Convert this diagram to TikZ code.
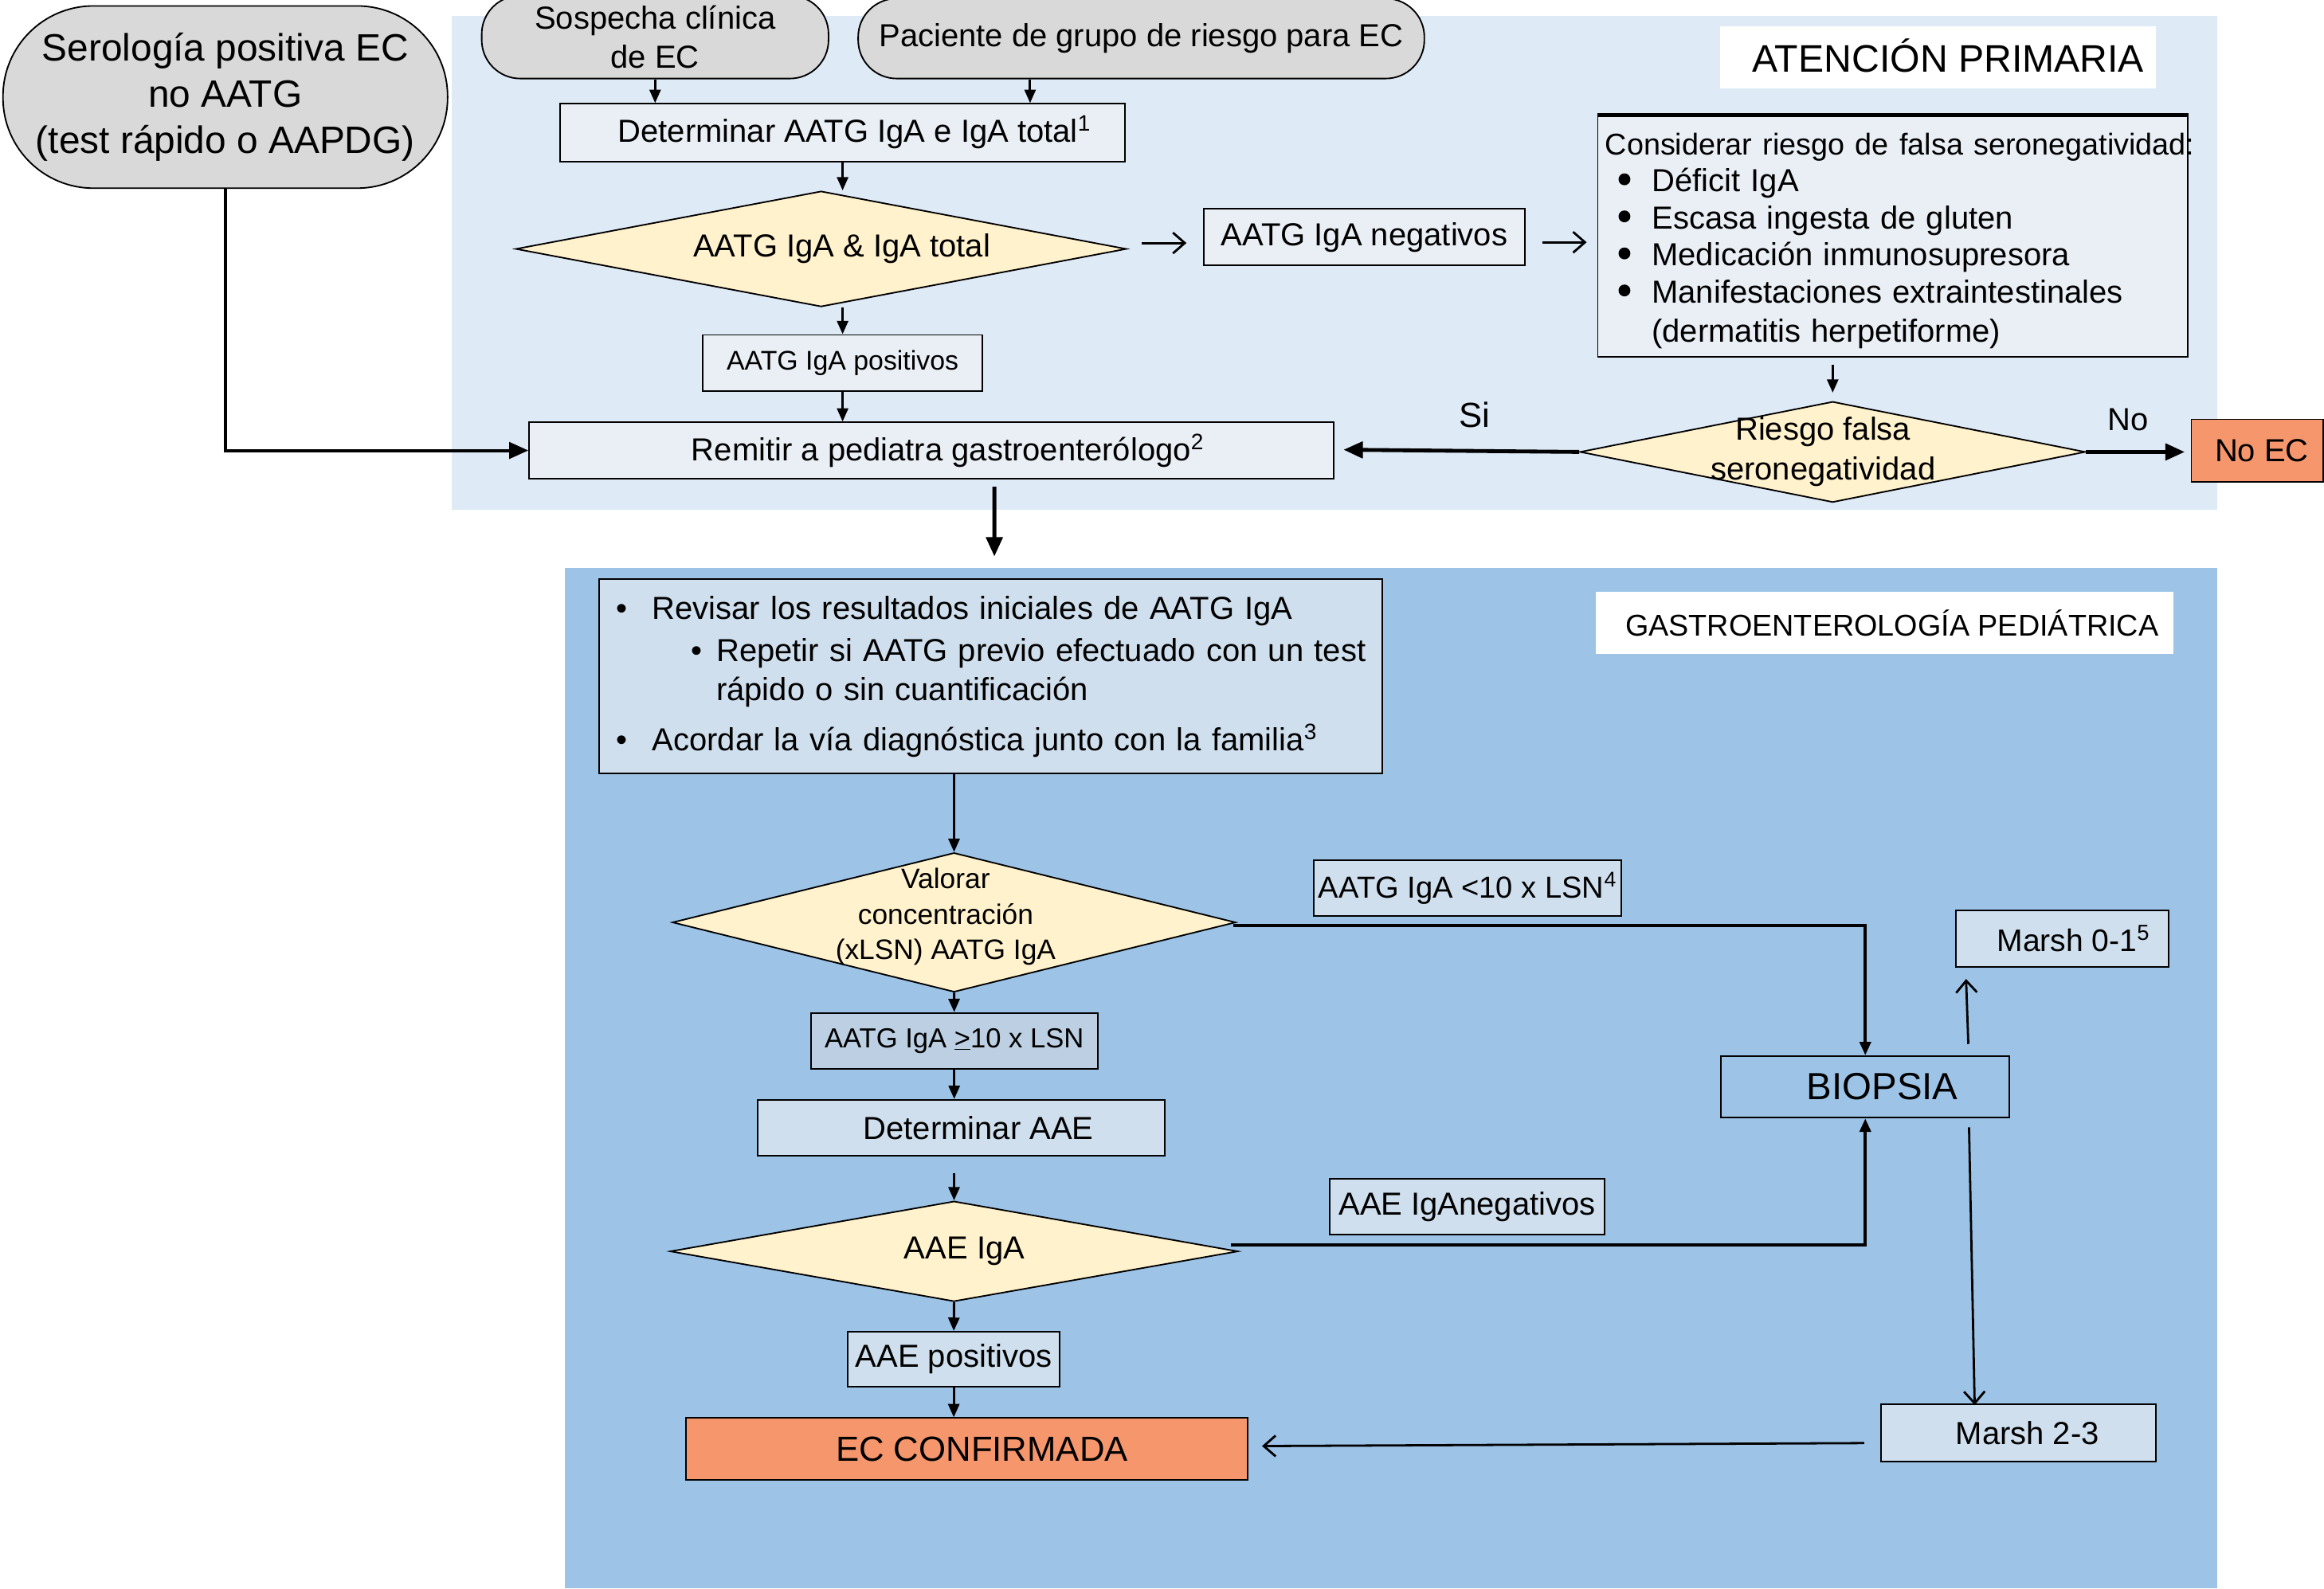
\documentclass[tikz,border=0pt]{standalone}
\usepackage{fontspec}
\setmainfont{Liberation Sans}
\usetikzlibrary{arrows.meta,shapes.geometric,calc}
\definecolor{topbg}{RGB}{222,234,246}
\definecolor{botbg}{RGB}{157,195,230}
\definecolor{boxtop}{RGB}{233,239,245}
\definecolor{pillgray}{RGB}{217,217,217}
\definecolor{decyel}{RGB}{255,242,204}
\definecolor{boxlow}{RGB}{207,223,237}
\definecolor{boxmid}{RGB}{189,208,227}
\definecolor{ecorange}{RGB}{246,150,108}
\newcommand\fsz[2]{\fontsize{#1}{#2}\selectfont}
\newcommand\cbul{\hspace*{9pt}\makebox[22.5pt][l]{\raisebox{4.5pt}{\tikz\fill (0,0) circle (4pt);}}}
\tikzset{
  box/.style={draw, line width=1pt, inner sep=2pt, font=\fsz{21.5}{26}},
  tbox/.style={box, fill=boxtop},
  lbox/.style={box, fill=boxlow},
  pill/.style={box, fill=pillgray, align=center},
  dia/.style={draw, line width=1pt, diamond, fill=decyel, inner sep=0pt},
  lab/.style={font=\fsz{21.5}{26}},
  conn/.style={line width=1.6pt, -{Triangle[length=9pt,width=7.5pt]}},
  conT/.style={line width=2.6pt, -{Triangle[length=13pt,width=11pt]}},
  conO/.style={line width=1.5pt, -{Straight Barb[length=8pt,width=14pt]}}
}
\begin{document}
\begin{tikzpicture}[x=1pt,y=-1pt]
\useasboundingbox (0,0) rectangle (1568,1072);
\fill[topbg] (305,11) rectangle (1496,344);
\fill[botbg] (381,383) rectangle (1496,1072);

% ---- Atencion primaria ----
\node[pill, rounded corners=61pt, minimum width=300pt, minimum height=123pt, font=\fsz{25.7}{31.2}] (sero) at (152,65.5) {Serología positiva EC\\no AATG\\(test rápido o AAPDG)};
\node[pill, rounded corners=26pt, minimum width=234pt, minimum height=56pt, font=\fsz{21.5}{26.7}] (sosp) at (442,25) {Sospecha clínica\\de EC};
\node[pill, rounded corners=26pt, minimum width=382pt, minimum height=54pt] (pac) at (770,26) {Paciente de grupo de riesgo para EC};
\node[tbox, minimum width=381pt, minimum height=39pt] (det) at (568.5,89.5) {\hspace*{16pt}Determinar AATG IgA e IgA total\textsuperscript{1}};
\node[dia, minimum width=412pt, minimum height=78pt, label={[lab, xshift=14pt]center:AATG IgA \& IgA total}] (d1) at (554,168) {};
\node[tbox, minimum width=217pt, minimum height=38pt] (neg) at (920.5,160) {AATG IgA negativos};
\node[tbox, minimum width=398pt, minimum height=163pt, text width=388pt, inner xsep=5pt, inner ysep=0pt, align=left, font=\fsz{21.5}{25}] (cons) at (1277,159.5) {\rule{0pt}{21pt}\mbox{\fsz{20.3}{25}Considerar riesgo de falsa seronegatividad:}\\
\cbul Déficit IgA\\
\cbul Escasa ingesta de gluten\\
\cbul Medicación inmunosupresora\\
\cbul Manifestaciones extraintestinales\\[1.5pt]
\hspace*{31.5pt}(dermatitis herpetiforme)};
\draw[line width=2.5pt] (cons.north west) -- (cons.north east);
\node[tbox, minimum width=189pt, minimum height=38pt, font=\fsz{18.2}{22}] (pos) at (568.5,245) {AATG IgA positivos};
\node[tbox, minimum width=543pt, minimum height=38pt] (rem) at (628.5,304) {\hspace*{22pt}Remitir a pediatra gastroenterólogo\textsuperscript{2}};
\node[dia, minimum width=341pt, minimum height=68pt, label={[align=center, xshift=-6.5pt, font=\fsz{21.5}{26.7}]center:Riesgo falsa\\seronegatividad}] (d2) at (1236.5,305) {};
\node[box, fill=ecorange, minimum width=89pt, minimum height=42pt] (noec) at (1523,304) {\hspace*{6pt}No EC};
\node[font=\fsz{23.5}{26}] (si) at (995,280) {Si};
\node[font=\fsz{21.5}{26}] (no) at (1436,283) {No};
\node[fill=white, minimum width=294pt, minimum height=42pt, font=\fsz{25.9}{30}] (atp) at (1307.4,38.8) {\hspace*{14pt}\raisebox{3pt}{ATENCIÓN PRIMARIA}};

% ---- Gastroenterologia pediatrica ----
\node[lbox, minimum width=528.5pt, minimum height=131pt, text width=528.5pt, inner sep=0pt, align=left, font=\fsz{21.5}{26.4}] (bul) at (668.3,456.5) {\hspace*{11.7pt}\makebox[24.3pt][l]{•}Revisar los resultados iniciales de AATG IgA\\[2.4pt]
\hspace*{62.3pt}\makebox[17pt][l]{•}Repetir si AATG previo efectuado con un test\\
\hspace*{79.3pt}rápido o sin cuantificación\\[7.2pt]
\hspace*{11.7pt}\makebox[24.3pt][l]{•}Acordar la vía diagnóstica junto con la familia\textsuperscript{3}};
\node[fill=white, minimum width=390pt, minimum height=41.5pt, font=\fsz{20.3}{24}] (gas) at (1271.5,420.3) {\hspace*{10pt}GASTROENTEROLOGÍA PEDIÁTRICA};
\node[dia, minimum width=380pt, minimum height=94pt, label={[align=center, xshift=-5.7pt, yshift=3.8pt, font=\fsz{19}{24}]center:Valorar\\concentración\\(xLSN) AATG IgA}] (d3) at (643.7,622.5) {};
\node[lbox, inner xsep=1pt, minimum width=207.7pt, minimum height=37.7pt, font=\fsz{20.5}{24}] (lt10) at (990.2,599.3) {AATG IgA <10 x LSN\textsuperscript{4}};
\node[box, fill=boxmid, minimum width=193.6pt, minimum height=37.7pt, font=\fsz{18.6}{22}] (ge10) at (643.8,702.4) {AATG IgA \underline{>}10 x LSN};
\node[lbox, minimum width=275pt, minimum height=37.8pt] (detaae) at (648.6,761.1) {\hspace*{23pt}Determinar AAE};
\node[dia, minimum width=383pt, minimum height=67.7pt, label={[lab, xshift=7pt]center:AAE IgA}] (d4) at (643.7,844.5) {};
\node[lbox, inner xsep=3pt, minimum width=143pt, minimum height=37.2pt] (aaepos) at (643.5,917.3) {AAE positivos};
\node[box, fill=ecorange, minimum width=379pt, minimum height=41.8pt, font=\fsz{23.5}{28}] (ecc) at (652.5,977.9) {\hspace*{20pt}EC CONFIRMADA};
\node[lbox, minimum width=185.6pt, minimum height=37.7pt] (aaeneg) at (989.9,814.5) {AAE IgAnegativos};
\node[box, fill=botbg, minimum width=194.6pt, minimum height=41.7pt, font=\fsz{25.5}{30}] (biop) at (1258.5,733.5) {\hspace*{23pt}BIOPSIA};
\node[lbox, minimum width=143.6pt, minimum height=38.2pt, font=\fsz{21}{25}] (m01) at (1391.5,633.6) {\hspace*{15pt}Marsh 0-1\textsuperscript{5}};
\node[lbox, minimum width=185.6pt, minimum height=38.6pt] (m23) at (1361.9,967) {\hspace*{12pt}Marsh 2-3};

% ---- connectors ----
\draw[conn] (sosp.south) -- (sosp.south |- det.north);
\draw[conn] ($(pac.south)+(-75,0)$) -- ($(det.north)+(126.5,0)$);
\draw[conn] (det.south) -- (det.south |- d1.north);
\draw[conn] (pos.north |- d1.south) -- (pos.north);
\draw[conn] (pos.south) -- (pos.south |- rem.north);
\draw[conO] ($(d1.east)+(10,-4)$) -- ($(neg.west)+(-11,4)$);
\draw[conO] ($(neg.east)+(11,3.5)$) -- ($(cons.west)+(-7,4)$);
\draw[conn] ($(d2.north)+(0,-24.5)$) -- ($(d2.north)+(0,-5.5)$);
\draw[conT] (d2.west) -- ($(rem.east)+(6,-0.5)$);
\draw[conT] (d2.east) -- ($(noec.west)+(-4,1)$);
\draw[conT] ($(rem.south)+(42.4,5)$) -- ($(bul.north)+(2.6,-15)$);
\draw[conT, line width=2.2pt] (sero.south) |- (rem.west);
\draw[conn] ($(bul.south)+(-24.6,0)$) -- (d3.north);
\draw[conn] (d3.south) -- (ge10.north);
\draw[conn] (ge10.south) -- (ge10.south |- detaae.north);
\draw[conn] ($(d4.north)+(0,-18.6)$) -- (d4.north);
\draw[conn] (d4.south) -- (aaepos.north);
\draw[conn] (aaepos.south) -- (aaepos.south |- ecc.north);
\draw[conn, line width=2pt] ($(d3.east)+(-2,2.2)$) -| (biop.north);
\draw[conn, line width=2pt] ($(d4.east)+(-5,-4.5)$) -| (biop.south);
\draw[conO] ($(biop.north)+(69.5,-7.6)$) -- ($(m01.south)+(-65,7.5)$);
\draw[conO] ($(biop.south)+(70,6)$) -- ($(m23.north)+(-29.6,1)$);
\draw[conO] ($(m23.west)+(-10.8,6.9)$) -- ($(ecc.east)+(9,-2)$);
\end{tikzpicture}
\end{document}
